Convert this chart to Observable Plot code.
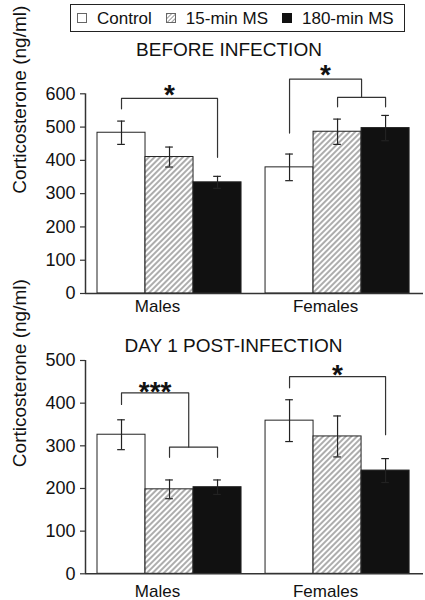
<!DOCTYPE html>
<html>
<head>
<meta charset="utf-8">
<script src="https://cdn.jsdelivr.net/npm/d3@7"></script>
<script src="https://cdn.jsdelivr.net/npm/@observablehq/plot@0.6"></script>
<style>
  body { margin: 0; background: #fff; font-family: "Liberation Sans", Arial, sans-serif; color: #111; }
  #root { position: relative; width: 425px; height: 600px; overflow: hidden; }
  .legend { position: absolute; left: 70px; top: 4px; width: 335px; height: 28px; box-sizing: border-box;
            border: 1px solid #222; display: flex; align-items: center; font-size: 17px; line-height: 17px;
            padding-left: 6px; white-space: nowrap; }
  .legend svg { display: block; margin-right: 10px; }
  .legend .item { display: flex; align-items: center; margin-right: 14px; }
  .title { position: absolute; font-size: 19px; line-height: 19px; text-align: center; white-space: nowrap; }
  .panel { position: absolute; left: 0; }
</style>
</head>
<body>
<div id="root"></div>
<script>
// ---------- data ----------
const groups = ["Males", "Females"];
const conditions = ["Control", "15-min MS", "180-min MS"];
const titles = ["BEFORE INFECTION", "DAY 1 POST-INFECTION"];
const yLabel = "Corticosterone (ng/ml)";

const beforeMales = [483, 410, 334];
const beforeMalesErr = [35, 30, 18];
const beforeFemales = [379, 486, 497];
const beforeFemalesErr = [40, 38, 38];
const beforeTicks = [0, 100, 200, 300, 400, 500, 600];

const day1Males = [326, 198, 203];
const day1MalesErr = [35, 22, 17];
const day1Females = [359, 322, 242];
const day1FemalesErr = [49, 48, 28];
const day1Ticks = [0, 100, 200, 300, 400, 500];

// significance brackets: group index, condition index from/to, top level, foot levels
const bracketsBefore = [
  {group: 0, from: 0, to: 2, top: 586, footFrom: 555, footTo: 409},
  {group: 1, from: 0, to: 1.5, top: 644, footFrom: 482, footTo: 589},
  {group: 1, from: 1, to: 2, top: 589, footFrom: 561, footTo: 561}
];
const starsBefore = [
  {group: 0, at: 1, y: 619, label: "*"},
  {group: 1, at: 0.75, y: 681, label: "*"}
];
const bracketsDay1 = [
  {group: 0, from: 0, to: 1.4, top: 424, footFrom: 397, footTo: 297},
  {group: 0, from: 1, to: 2, top: 297, footFrom: 273, footTo: 273},
  {group: 1, from: 0, to: 2, top: 462, footFrom: 436, footTo: 326}
];
const starsDay1 = [
  {group: 0, at: 0.7, y: 444, label: "***"},
  {group: 1, at: 1, y: 484, label: "*"}
];

// ---------- layout helpers ----------
const groupStart = [1, 4.5];           // data position of first bar in each group
const pos = (g, c) => groupStart[g] + c;
const xDomain = [0.25, 7.29];
const fontFamily = "'Liberation Sans', Arial, sans-serif";

function hatchDefs(id) {
  return () => {
    const defs = d3.create("svg:defs");
    const p = defs.append("pattern").attr("id", id).attr("patternUnits", "userSpaceOnUse")
      .attr("width", 4).attr("height", 4).attr("patternTransform", "rotate(45)");
    p.append("rect").attr("width", 4).attr("height", 4).attr("fill", "#fff");
    p.append("line").attr("x1", 2).attr("y1", 0).attr("x2", 2).attr("y2", 4)
      .attr("stroke", "#8a8a8a").attr("stroke-width", 1.4);
    return defs.node();
  };
}

function panel({males, malesErr, females, femalesErr, ticks, brackets, stars, height, marginTop, marginBottom, labelDy, hatchId}) {
  const means = [males, females], errs = [malesErr, femalesErr];
  const rows = groups.flatMap((g, gi) => conditions.map((c, ci) => ({
    group: g, cond: c, mean: means[gi][ci], err: errs[gi][ci], x: pos(gi, ci)
  })));
  const bracketPts = brackets.flatMap((b, i) => [
    {i, x: pos(b.group, b.from), y: b.footFrom},
    {i, x: pos(b.group, b.from), y: b.top},
    {i, x: pos(b.group, b.to), y: b.top},
    {i, x: pos(b.group, b.to), y: b.footTo}
  ]);
  const groupLabels = groups.map((g, gi) => ({label: g, x: pos(gi, 1)}));
  const yMax = ticks[ticks.length - 1];
  return Plot.plot({
    width: 425, height, marginLeft: 85, marginRight: 2, marginTop, marginBottom,
    style: {fontFamily, fontSize: "18px", background: "transparent", overflow: "visible", color: "#111"},
    x: {type: "linear", domain: xDomain, axis: null},
    y: {domain: [0, yMax]},
    color: {type: "ordinal", domain: conditions, range: ["#fff", `url(#${hatchId})`, "#111"]},
    marks: [
      hatchDefs(hatchId),
      Plot.rect(rows, {x1: d => d.x - 0.5, x2: d => d.x + 0.5, y1: 0, y2: "mean", fill: "cond", stroke: "#222", strokeWidth: 1}),
      Plot.ruleX(rows, {x: "x", y1: d => d.mean - d.err, y2: d => d.mean + d.err, stroke: "#222", strokeWidth: 1.2}),
      Plot.ruleY(rows, {y: d => d.mean + d.err, x1: d => d.x - 0.08, x2: d => d.x + 0.08, stroke: "#222", strokeWidth: 1.2}),
      Plot.ruleY(rows, {y: d => d.mean - d.err, x1: d => d.x - 0.08, x2: d => d.x + 0.08, stroke: "#222", strokeWidth: 1.2}),
      Plot.line(bracketPts, {x: "x", y: "y", z: "i", stroke: "#333", strokeWidth: 1.2}),
      Plot.text(stars, {x: d => pos(d.group, d.at), y: "y", text: "label", fontSize: 28, fontWeight: "bold", lineAnchor: "middle", dy: 8, fill: "#111"}),
      Plot.ruleY([0], {stroke: "#333", strokeWidth: 1.5}),
      Plot.ruleX([{y1: 0, y2: yMax}], {x: xDomain[0], y1: "y1", y2: "y2", stroke: "#333", strokeWidth: 1.5}),
      Plot.axisY({ticks, tickSize: 5, tickPadding: 5, fontSize: 18, label: null, stroke: "#333", strokeWidth: 1.2}),
      Plot.text([yLabel], {frameAnchor: "left", rotate: -90, dx: -73, lineAnchor: "top", fontSize: 19, fill: "#111"}),
      Plot.text(groupLabels, {x: "x", y: 0, text: "label", lineAnchor: "top", dy: labelDy, dx: -12, fontSize: 17, fill: "#111"})
    ]
  });
}

// ---------- assemble page ----------
const root = document.getElementById("root");

// legend
const legend = document.createElement("div");
legend.className = "legend";
const swatchFill = ["#fff", "url(#hatch0)", "#111"];
conditions.forEach((c, i) => {
  const item = document.createElement("div");
  item.className = "item";
  item.innerHTML = `<svg width="10" height="10">${i === 1 ? `<defs><pattern id="hatch0" patternUnits="userSpaceOnUse" width="3" height="3" patternTransform="rotate(45)"><rect width="3" height="3" fill="#fff"/><line x1="1.5" y1="0" x2="1.5" y2="3" stroke="#9a9a9a" stroke-width="1"/></pattern></defs>` : ""}<rect x="0.5" y="0.5" width="9" height="9" fill="${swatchFill[i]}" stroke="${i === 2 ? "#111" : "#666"}" stroke-width="1"/></svg><span>${c}</span>`;
  legend.appendChild(item);
});
root.appendChild(legend);

// titles
const t1 = document.createElement("div");
t1.className = "title"; t1.style.left = "0px"; t1.style.width = "458px"; t1.style.top = "40px";
t1.textContent = titles[0];
root.appendChild(t1);
const t2 = document.createElement("div");
t2.className = "title"; t2.style.left = "0px"; t2.style.width = "467px"; t2.style.top = "336px";
t2.textContent = titles[1];
root.appendChild(t2);

// panels
const p1 = panel({
  males: beforeMales, malesErr: beforeMalesErr, females: beforeFemales, femalesErr: beforeFemalesErr,
  ticks: beforeTicks, brackets: bracketsBefore, stars: starsBefore,
  height: 258, marginTop: 33.3, marginBottom: 25, labelDy: 6.6, hatchId: "hatch1"
});
p1.classList.add("panel"); p1.style.top = "60px";
root.appendChild(p1);

const p2 = panel({
  males: day1Males, malesErr: day1MalesErr, females: day1Females, femalesErr: day1FemalesErr,
  ticks: day1Ticks, brackets: bracketsDay1, stars: starsDay1,
  height: 245, marginTop: 5, marginBottom: 26.7, labelDy: 11.6, hatchId: "hatch2"
});
p2.classList.add("panel"); p2.style.top = "355px";
root.appendChild(p2);
</script>
</body>
</html>
